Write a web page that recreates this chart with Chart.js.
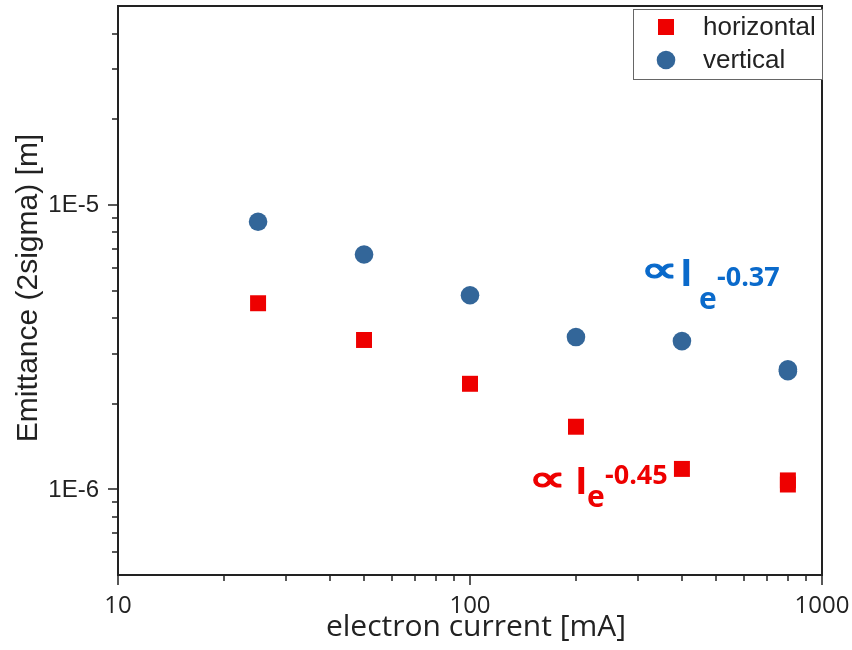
<!DOCTYPE html>
<html>
<head>
<meta charset="utf-8">
<script src="https://cdn.jsdelivr.net/npm/chart.js@4.4.1/dist/chart.umd.min.js"></script>
<style>
  html, body { margin: 0; padding: 0; background: #fff; }
</style>
</head>
<body>
<canvas id="emit-chart" width="852" height="650"></canvas>
<script>
// electron current [mA]; the 800 mA point was measured twice
const currents = [25, 50, 100, 200, 400, 800, 800];
const horizontal = [4.51e-6, 3.35e-6, 2.35e-6, 1.66e-6, 1.18e-6, 1.075e-6, 1.04e-6];
const vertical = [8.72e-6, 6.69e-6, 4.81e-6, 3.43e-6, 3.32e-6, 2.64e-6, 2.60e-6];

const xMajor = [10, 100, 1000];
const xMinor = [20, 30, 40, 50, 60, 70, 80, 90, 200, 300, 400, 500, 600, 700, 800, 900];
const yMajor = [1e-6, 1e-5];
const yMinor = [6e-7, 7e-7, 8e-7, 9e-7, 2e-6, 3e-6, 4e-6, 5e-6, 6e-6, 7e-6, 8e-6, 9e-6, 2e-5, 3e-5, 4e-5];

const fitLabels = [
  { exp: '-0.37', color: '#0a6acb', x: 645, y: 273, ix: 683, iy: 270, ex: 700, ey: 292, px: 717, py: 267 },
  { exp: '-0.45', color: '#ee0000', x: 533, y: 472, ix: 578, iy: 467, ex: 588, ey: 490, px: 605, py: 465 }
];

const RED = '#ee0000';
const BLUE = '#336699';
const INK = '#222222';

function toPoints(ys) {
  return ys.map((v, i) => ({ x: currents[i], y: v }));
}

// place text so that the top-left of its ink lands on (left, top)
function inkText(ctx, text, font, left, top) {
  ctx.font = font;
  const m = ctx.measureText(text);
  ctx.textAlign = 'left';
  ctx.textBaseline = 'alphabetic';
  ctx.fillText(text, left + m.actualBoundingBoxLeft, top + m.actualBoundingBoxAscent);
}

// same, but stretch the ink to fill a w x h box, with an optional outline to thicken it
function inkTextBox(ctx, text, font, left, top, w, h, thicken) {
  ctx.font = font;
  const m = ctx.measureText(text);
  const iw = m.actualBoundingBoxLeft + m.actualBoundingBoxRight;
  const ih = m.actualBoundingBoxAscent + m.actualBoundingBoxDescent;
  const sx = w / iw, sy = h / ih;
  ctx.save();
  ctx.translate(left, top);
  ctx.scale(sx, sy);
  ctx.textAlign = 'left';
  ctx.textBaseline = 'alphabetic';
  ctx.fillText(text, m.actualBoundingBoxLeft, m.actualBoundingBoxAscent);
  if (thicken) {
    ctx.strokeStyle = ctx.fillStyle;
    ctx.lineWidth = thicken / Math.min(sx, sy);
    ctx.lineJoin = 'round';
    ctx.strokeText(text, m.actualBoundingBoxLeft, m.actualBoundingBoxAscent);
  }
  ctx.restore();
}

const frame = {
  id: 'frame',
  afterDatasetsDraw(chart) {
    const ctx = chart.ctx;
    const a = chart.chartArea;
    const xs = chart.scales.x;
    const ys = chart.scales.y;
    ctx.save();

    // box
    ctx.strokeStyle = INK;
    ctx.lineWidth = 2;
    ctx.strokeRect(a.left, a.top, a.right - a.left, a.bottom - a.top);

    // ticks on bottom and left, pointing out
    ctx.lineWidth = 1.5;
    ctx.beginPath();
    xMajor.forEach(v => { const p = Math.round(xs.getPixelForValue(v)); ctx.moveTo(p, a.bottom); ctx.lineTo(p, a.bottom + 10); });
    xMinor.forEach(v => { const p = Math.round(xs.getPixelForValue(v)); ctx.moveTo(p, a.bottom); ctx.lineTo(p, a.bottom + 6); });
    yMajor.forEach(v => { const p = Math.round(ys.getPixelForValue(v)); ctx.moveTo(a.left, p); ctx.lineTo(a.left - 10, p); });
    yMinor.forEach(v => { const p = Math.round(ys.getPixelForValue(v)); ctx.moveTo(a.left, p); ctx.lineTo(a.left - 6, p); });
    ctx.stroke();

    // tick labels
    ctx.fillStyle = INK;
    ctx.font = '24px "Open Sans"';
    ctx.textAlign = 'center';
    ctx.textBaseline = 'alphabetic';
    xMajor.forEach(v => ctx.fillText(String(v), xs.getPixelForValue(v), 613));

    ctx.font = '24px "Liberation Sans"';
    ctx.textAlign = 'right';
    ctx.textBaseline = 'middle';
    yMajor.forEach(v => ctx.fillText('1E' + Math.round(Math.log10(v)), 99, ys.getPixelForValue(v) + 1));

    // axis titles
    ctx.font = '30px "Open Sans"';
    ctx.textAlign = 'center';
    ctx.textBaseline = 'alphabetic';
    ctx.fillText('electron current [mA]', 476, 636);

    ctx.save();
    ctx.translate(37, 288);
    ctx.rotate(-Math.PI / 2);
    ctx.font = '30px "Liberation Sans"';
    ctx.fillText('Emittance (2sigma) [m]', 0, 0);
    ctx.restore();

    // legend
    ctx.fillStyle = '#fff';
    ctx.fillRect(633, 9, 189, 70);
    ctx.strokeStyle = '#666';
    ctx.lineWidth = 1;
    ctx.strokeRect(633.5, 9.5, 189, 70);
    ctx.fillStyle = RED;
    ctx.fillRect(658, 19, 16, 16);
    ctx.fillStyle = BLUE;
    ctx.beginPath();
    ctx.arc(666, 60, 9.3, 0, Math.PI * 2);
    ctx.fill();
    ctx.fillStyle = INK;
    ctx.font = '26px "Liberation Sans"';
    ctx.textAlign = 'left';
    ctx.textBaseline = 'middle';
    ctx.fillText('horizontal', 703, 28);
    ctx.fillText('vertical', 703, 61);

    // power-law labels
    fitLabels.forEach(f => {
      ctx.fillStyle = f.color;
      inkTextBox(ctx, '\u221D', '40px "DejaVu Sans"', f.x + 0.7, f.y + 0.7, 27.6, 14.6, 1.4);
      inkText(ctx, 'I', 'bold 38px "Open Sans"', f.ix, f.iy);
      inkText(ctx, 'e', 'bold 30px "Open Sans"', f.ex, f.ey);
      inkText(ctx, f.exp, 'bold 27px "Open Sans"', f.px, f.py);
    });

    ctx.restore();
  }
};

new Chart(document.getElementById('emit-chart'), {
  type: 'scatter',
  data: {
    datasets: [
      {
        label: 'horizontal',
        data: toPoints(horizontal),
        pointStyle: 'rect',
        pointRadius: 11.3,
        pointHoverRadius: 11.3,
        backgroundColor: RED,
        borderColor: RED,
        borderWidth: 0
      },
      {
        label: 'vertical',
        data: toPoints(vertical),
        pointStyle: 'circle',
        pointRadius: 9.3,
        pointHoverRadius: 9.3,
        backgroundColor: BLUE,
        borderColor: BLUE,
        borderWidth: 0
      }
    ]
  },
  options: {
    responsive: false,
    animation: false,
    layout: { autoPadding: false, padding: { left: 118, top: 6, right: 30, bottom: 75 } },
    plugins: { legend: { display: false }, tooltip: { enabled: false } },
    scales: {
      x: { type: 'logarithmic', min: 10, max: 1000, display: false },
      y: { type: 'logarithmic', min: 5e-7, max: 5e-5, display: false }
    }
  },
  plugins: [frame]
});
</script>
</body>
</html>
